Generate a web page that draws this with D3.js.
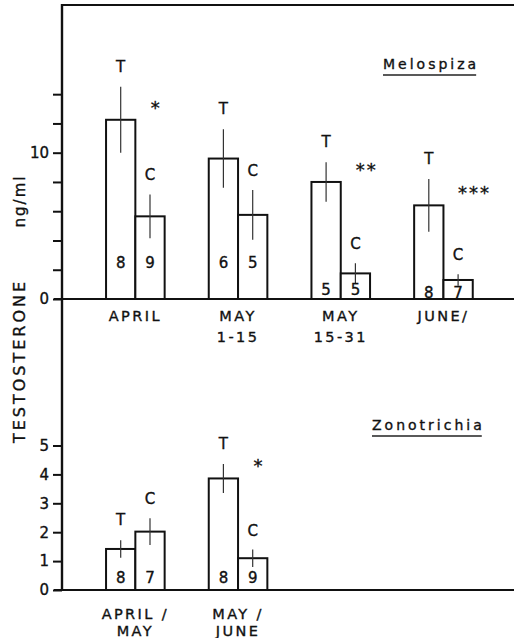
<!DOCTYPE html>
<html>
<head>
<meta charset="utf-8">
<script src="https://cdn.jsdelivr.net/npm/d3@7"></script>
<style>
  body { margin: 0; background: #fff; }
  svg { display: block; }
  text { font-family: "DejaVu Sans", sans-serif; fill: #111; stroke: #111; stroke-width: 0.35px; }
</style>
</head>
<body>
<div id="chart"></div>
<script>
// Testosterone, treated (T) vs control (C), two sparrows
const WIDTH = 514;
const HEIGHT = 638;

// Melospiza (top panel)
const melCats = [["APRIL"], ["MAY", "1-15"], ["MAY", "15-31"], ["JUNE/"]];
const melT = [12.25, 9.6, 8.0, 6.4];
const melTse = [2.25, 2.0, 1.35, 1.8];
const melC = [5.65, 5.75, 1.75, 1.3];
const melCse = [1.5, 1.7, 0.7, 0.4];
const melNT = [8, 6, 5, 8];
const melNC = [9, 5, 5, 7];
const melSig = ["*", "", "**", "***"];
const melTicks = [0, 2, 4, 6, 8, 10, 12, 14];
const melTickLabels = [0, 10];

// Zonotrichia (bottom panel)
const zonCats = [["APRIL /", "MAY"], ["MAY /", "JUNE"]];
const zonT = [1.42, 3.86];
const zonTse = [0.3, 0.5];
const zonC = [2.02, 1.1];
const zonCse = [0.46, 0.3];
const zonNT = [8, 8];
const zonNC = [7, 9];
const zonSig = ["", "*"];
const zonTicks = [0, 1, 2, 3, 4, 5];

const svg = d3.select("#chart").append("svg")
  .attr("width", WIDTH)
  .attr("height", HEIGHT);

const AXIS_X = 62;

// shared group positions
const x = d3.scaleBand().domain(d3.range(4)).range([84, 494.8]);
const xs = d3.scaleBand().domain(["T", "C"]).range([-29.3, 29.3]);
const center = (i) => x(i) + x.bandwidth() / 2;

const yTop = d3.scaleLinear().domain([0, 10]).range([299, 152.7]);
const yBot = d3.scaleLinear().domain([0, 5]).range([590, 445.5]);

function drawPanel(p) {
  const { y, cats, T, Tse, C, Cse, NT, NC, sig, ticks, labels, nLift, labelY, lineGap } = p;
  const g = svg.append("g");

  // y axis ticks
  const ax = g.append("g")
    .attr("transform", `translate(${AXIS_X},0)`)
    .call(d3.axisLeft(y).tickValues(ticks).tickSize(9).tickPadding(4)
      .tickFormat((d) => (labels.includes(d) ? d : "")));
  ax.select(".domain").remove();
  ax.selectAll(".tick line").attr("stroke", "#111").attr("stroke-width", 2);
  ax.selectAll(".tick text")
    .style("font-size", "15px")
    .style("font-family", "DejaVu Sans, sans-serif")
    .attr("fill", "#111");

  // baseline
  g.append("line")
    .attr("x1", AXIS_X - 8).attr("x2", WIDTH)
    .attr("y1", y(0)).attr("y2", y(0))
    .attr("stroke", "#111").attr("stroke-width", 2.2);

  const rows = T.map((t, i) => [
    { i, k: "T", v: t, se: Tse[i], n: NT[i] },
    { i, k: "C", v: C[i], se: Cse[i], n: NC[i] },
  ]).flat();

  // bars
  g.selectAll(".bar").data(rows).enter().append("rect")
    .attr("x", (d) => center(d.i) + xs(d.k))
    .attr("y", (d) => y(d.v))
    .attr("width", xs.bandwidth())
    .attr("height", (d) => y(0) - y(d.v))
    .attr("fill", "#fff")
    .attr("stroke", "#111")
    .attr("stroke-width", 2);

  // error bars
  g.selectAll(".err").data(rows).enter().append("line")
    .attr("x1", (d) => center(d.i) + xs(d.k) + xs.bandwidth() / 2)
    .attr("x2", (d) => center(d.i) + xs(d.k) + xs.bandwidth() / 2)
    .attr("y1", (d) => y(d.v + d.se))
    .attr("y2", (d) => y(d.v - d.se))
    .attr("stroke", "#333")
    .attr("stroke-width", 1.2);

  // T / C letters
  g.selectAll(".lab").data(rows).enter().append("text")
    .attr("x", (d) => center(d.i) + xs(d.k) + xs.bandwidth() / 2)
    .attr("y", (d) => y(d.v + d.se) - (d.k === "T" ? 15 : 14))
    .attr("text-anchor", "middle")
    .style("font-size", "15px")
    .text((d) => d.k);

  // sample sizes
  g.selectAll(".n").data(rows).enter().append("text")
    .attr("x", (d) => center(d.i) + xs(d.k) + xs.bandwidth() / 2)
    .attr("y", (d) => {
      const lo = Math.min(T[d.i], C[d.i]);
      return Math.max(y(0) - nLift, Math.min(y(0) - 1, y(lo) + 22));
    })
    .attr("text-anchor", "middle")
    .style("font-size", "15px")
    .text((d) => d.n);

  // significance stars
  g.selectAll(".sig").data(sig).enter().append("text")
    .attr("x", (d, i) => center(i) + 16 + 5 * d.length)
    .attr("y", (d, i) => y(T[i]) - 6)
    .attr("text-anchor", "middle")
    .style("font-size", "18px")
    .style("letter-spacing", "2px")
    .text((d) => d);

  // category labels
  cats.forEach((lines, i) => {
    lines.forEach((s, j) => {
      g.append("text")
        .attr("x", center(i))
        .attr("y", labelY + j * lineGap)
        .attr("text-anchor", "middle")
        .style("font-size", "14.5px")
        .style("letter-spacing", "2.4px")
        .text(s);
    });
  });

  // species name, underlined
  const sp = g.append("text")
    .attr("x", p.nameX)
    .attr("y", p.nameY)
    .style("font-size", "14px")
    .style("letter-spacing", "3px")
    .text(p.name);
  const bb = sp.node().getBBox();
  g.append("line")
    .attr("x1", bb.x).attr("x2", bb.x + bb.width - 3)
    .attr("y1", p.nameY + 6).attr("y2", p.nameY + 6)
    .attr("stroke", "#222").attr("stroke-width", 1.3);
}

drawPanel({
  y: yTop, cats: melCats, T: melT, Tse: melTse, C: melC, Cse: melCse,
  NT: melNT, NC: melNC, sig: melSig, ticks: melTicks, labels: melTickLabels,
  nLift: 31, labelY: 321, lineGap: 21, name: "Melospiza", nameX: 383, nameY: 69,
});

drawPanel({
  y: yBot, cats: zonCats, T: zonT, Tse: zonTse, C: zonC, Cse: zonCse,
  NT: zonNT, NC: zonNC, sig: zonSig, ticks: zonTicks, labels: zonTicks,
  nLift: 7, labelY: 619, lineGap: 17, name: "Zonotrichia", nameX: 372, nameY: 430,
});

// frame: left axis and top rule
svg.append("line")
  .attr("x1", AXIS_X).attr("x2", AXIS_X)
  .attr("y1", 4).attr("y2", yBot(0) + 1)
  .attr("stroke", "#111").attr("stroke-width", 2.4);
svg.append("line")
  .attr("x1", AXIS_X - 1).attr("x2", WIDTH)
  .attr("y1", 5).attr("y2", 5)
  .attr("stroke", "#111").attr("stroke-width", 2.2);

// axis titles
svg.append("text")
  .attr("transform", "translate(25,361) rotate(-90)")
  .attr("text-anchor", "middle")
  .style("font-size", "16px")
  .style("letter-spacing", "3px")
  .text("TESTOSTERONE");
svg.append("text")
  .attr("transform", "translate(25,201) rotate(-90)")
  .attr("text-anchor", "middle")
  .style("font-size", "15px")
  .style("letter-spacing", "2px")
  .text("ng/ml");
</script>
</body>
</html>
